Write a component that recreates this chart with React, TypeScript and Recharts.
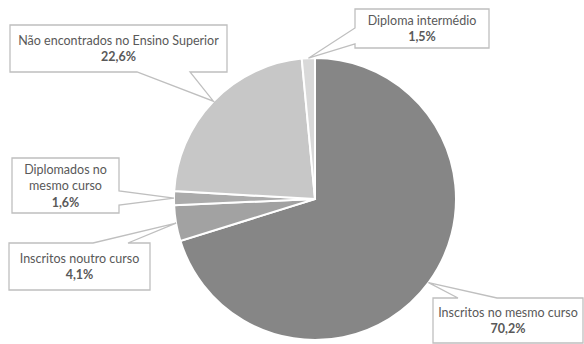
import React from "react";
import { PieChart, Pie, Cell } from "recharts";

// Situação dos estudantes um ano depois (percentagens)
const categories = [
    "Inscritos no mesmo curso",
    "Inscritos noutro curso",
    "Diplomados no mesmo curso",
    "Não encontrados no Ensino Superior",
    "Diploma intermédio",
];
const shares = [70.2, 4.1, 1.6, 22.6, 1.5];
const sliceColors = ["#868686", "#a2a2a2", "#ababab", "#c7c7c7", "#d9d9d9"];

// callout boxes: position/size, where the pointer leaves the box, and how the label wraps
type Side = "top" | "right" | "bottom" | "left";
interface Callout {
    x: number;
    y: number;
    w: number;
    h: number;
    side: Side;
    from: number;
    to: number;
    wrapAfter?: number;
}
const callouts: Callout[] = [
    { x: 433, y: 298, w: 150, h: 45, side: "top", from: 25, to: 64 },
    { x: 9, y: 243, w: 141, h: 47, side: "top", from: 84, to: 119 },
    { x: 12, y: 158, w: 107, h: 55, side: "right", from: 33, to: 47, wrapAfter: 2 },
    { x: 10, y: 25, w: 217, h: 47, side: "bottom", from: 180, to: 127 },
    { x: 355, y: 9, w: 134, h: 39, side: "left", from: 35, to: 19 },
];

const data = categories.map((name, i) => ({ name, value: shares[i] }));

const RADIAN = Math.PI / 180;
const TEXT = "#595959";
const BORDER = "#bfbfbf";

// perimeter position, clockwise from the top-left corner
const edgeT = (c: Callout, side: Side, off: number) => {
    if (side === "top") return off;
    if (side === "right") return c.w + off;
    if (side === "bottom") return c.w + c.h + (c.w - off);
    return 2 * c.w + c.h + (c.h - off);
};

const perimPoint = (c: Callout, t: number): [number, number] => {
    const P = 2 * (c.w + c.h);
    t = ((t % P) + P) % P;
    if (t <= c.w) return [c.x + t, c.y];
    if (t <= c.w + c.h) return [c.x + c.w, c.y + t - c.w];
    if (t <= 2 * c.w + c.h) return [c.x + c.w - (t - c.w - c.h), c.y + c.h];
    return [c.x, c.y + c.h - (t - 2 * c.w - c.h)];
};

const calloutPath = (c: Callout, tip: [number, number]) => {
    const P = 2 * (c.w + c.h);
    const tA = edgeT(c, c.side, c.from);
    let tB = edgeT(c, c.side, c.to);
    if (tB < tA) tB += P;
    const corners = [0, c.w, c.w + c.h, 2 * c.w + c.h, P, P + c.w, P + c.w + c.h, P + 2 * c.w + c.h];
    const pts: [number, number][] = [perimPoint(c, tB)];
    corners.forEach((k) => {
        if (k > tB && k < tA + P) pts.push(perimPoint(c, k));
    });
    pts.push(perimPoint(c, tA));
    pts.push(tip);
    return "M" + pts.map((p) => `${p[0].toFixed(1)},${p[1].toFixed(1)}`).join("L") + "Z";
};

const fmt = (v: number) => v.toFixed(1).replace(".", ",") + "%";

const renderCallout = (props: any) => {
    const { cx, cy, midAngle, outerRadius, index } = props;
    const c = callouts[index];
    const tip: [number, number] = [
        cx + outerRadius * Math.cos(-midAngle * RADIAN),
        cy + outerRadius * Math.sin(-midAngle * RADIAN),
    ];
    const words = categories[index].split(" ");
    const lines = c.wrapAfter
        ? [words.slice(0, c.wrapAfter).join(" "), words.slice(c.wrapAfter).join(" ")]
        : [categories[index]];
    const lineH = 16.5;
    const total = lines.length + 1;
    const midX = c.x + c.w / 2;
    const firstY = c.y + c.h / 2 - ((total - 1) * lineH) / 2;
    return (
        <g key={`callout-${index}`}>
            <path d={calloutPath(c, tip)} fill="#ffffff" stroke={BORDER} strokeWidth={1.3} />
            {lines.map((ln, j) => (
                <text
                    key={j}
                    x={midX}
                    y={firstY + j * lineH}
                    textAnchor="middle"
                    dominantBaseline="central"
                    fill={TEXT}
                    fontSize={12.5}
                >
                    {ln}
                </text>
            ))}
            <text
                x={midX}
                y={firstY + lines.length * lineH}
                textAnchor="middle"
                dominantBaseline="central"
                fill={TEXT}
                fontSize={12.5}
                fontWeight="bold"
            >
                {fmt(shares[index])}
            </text>
        </g>
    );
};

export default function App() {
    return (
        <div style={{ position: "absolute", left: 0, top: 0, background: "#ffffff", fontFamily: "Lato, 'Open Sans', sans-serif" }}>
            <PieChart width={584} height={344} margin={{ top: 0, right: 0, bottom: 0, left: 0 }}>
                <Pie
                    data={data}
                    dataKey="value"
                    nameKey="name"
                    cx={315}
                    cy={199}
                    outerRadius={141}
                    startAngle={90}
                    endAngle={-270}
                    stroke="#ffffff"
                    strokeWidth={2}
                    label={renderCallout}
                    labelLine={false}
                    isAnimationActive={false}
                >
                    {data.map((d, i) => (
                        <Cell key={d.name} fill={sliceColors[i]} />
                    ))}
                </Pie>
            </PieChart>
        </div>
    );
}
